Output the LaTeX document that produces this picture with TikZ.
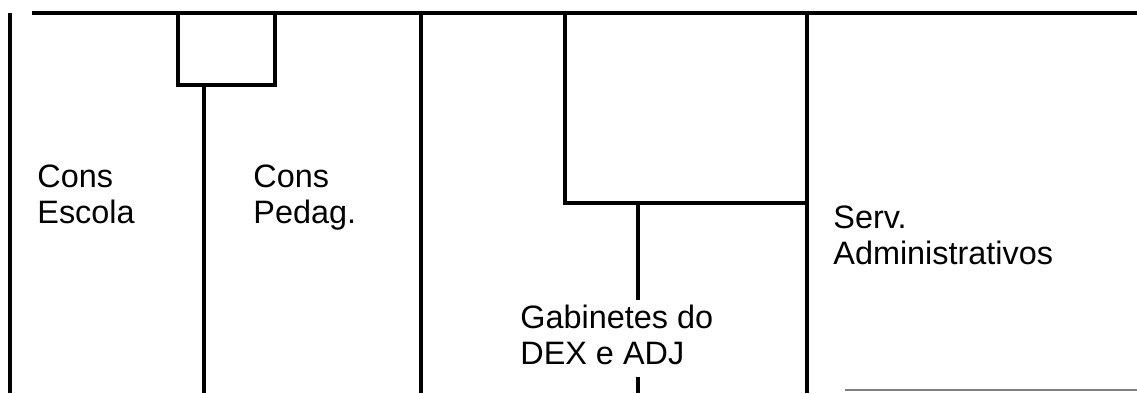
\documentclass[tikz,border=0pt]{standalone}
\usepackage{fontspec}
\setmainfont{Liberation Sans}
\usetikzlibrary{positioning}

\begin{document}
\begin{tikzpicture}[
    x=0.5pt, y=-0.5pt,
    frame/.style={draw, line width=1.6pt},
    faint/.style={draw, gray, line width=0.8pt},
    unitname/.style={anchor=north west, inner sep=0pt, align=left, font=\fontsize{16.2}{18}\selectfont}
]

\useasboundingbox (0,0) rectangle (1137,393);

\coordinate (base) at (0,393);
\coordinate (topstart) at (32,13);
\coordinate (topend) at (1137,13);
\coordinate (edge) at (10,13);
\coordinate (cpnw) at (178,13);
\coordinate (cpse) at (275,85);
\coordinate (cpstem) at (204,85);
\coordinate (mid) at (421,13);
\coordinate (gabnw) at (565,13);
\coordinate (gabse) at (807,203);
\coordinate (dexstem) at (638,203);
\coordinate (servfoot) at (845,390);

\node [unitname] (escola) at (37,164) {Cons\\Escola};
\node [unitname] (pedag) at (253,164) {Cons\\Pedag.};
\node [unitname] (gab) at (520,305) {Gabinetes do\\DEX e ADJ};
\node [unitname] (serv) at (833,205) {Serv.\\Administrativos};

\draw [frame] (topstart) -- (topend);
\draw [frame] (edge) -- (edge |- base);
\draw [frame] (cpnw) rectangle (cpse);
\draw [frame] (cpstem) -- (cpstem |- base);
\draw [frame] (mid) -- (mid |- base);
\draw [frame] (gabnw) rectangle (gabse);
\draw [frame] (gabse) -- (gabse |- base);
\draw [frame] (dexstem) -- ([yshift=2.5pt]dexstem |- gab.north);
\draw [frame] ([yshift=-5.5pt]dexstem |- gab.south) -- (dexstem |- base);
\draw [faint] (servfoot) -- (servfoot -| topend);

\end{tikzpicture}
\end{document}
